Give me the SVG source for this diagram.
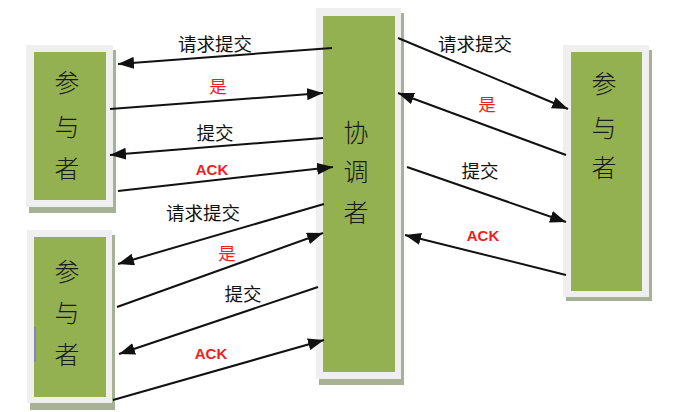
<svg xmlns="http://www.w3.org/2000/svg" width="680" height="412" viewBox="0 0 680 412">
<style>
.shadow{fill:#a7b195}
.frame{fill:#efefef}
.box{fill:#93b151}
.nt{font-family:"Noto Sans CJK SC","Noto Sans",sans-serif;font-size:25px;font-weight:300;fill:#1a1a1a;text-anchor:middle;dominant-baseline:central}
.lb{font-family:"Noto Sans CJK SC","Liberation Sans",sans-serif;font-size:18.5px;fill:#111;text-anchor:middle;dominant-baseline:central}
.red{font-family:"Noto Sans CJK SC","Liberation Sans",sans-serif;font-size:17.5px;fill:#f01e1e;text-anchor:middle;dominant-baseline:central}
.ack{font-family:"Liberation Sans",Arial,sans-serif;font-size:15px;font-weight:bold;fill:#f01e1e;text-anchor:middle;dominant-baseline:central}
.ar{stroke:#111;stroke-width:2;fill:none;marker-end:url(#ah)}
</style>
<defs>
<marker id="ah" markerUnits="userSpaceOnUse" markerWidth="16" markerHeight="12" refX="16" refY="6" orient="auto" viewBox="0 0 16 12">
<path d="M0,0 L16,6 L0,12 z" fill="#111"/>
</marker>
</defs>
<rect width="680" height="412" fill="#ffffff"/>
<g id="participant-top-left">
<rect class="shadow" x="29" y="50" width="87" height="163"/>
<rect class="frame" x="26" y="45" width="87" height="162"/>
<rect class="box" x="34" y="52" width="72" height="148"/>
<text class="nt" x="67" y="81">参</text>
<text class="nt" x="67" y="125">与</text>
<text class="nt" x="67" y="167">者</text>
</g>
<g id="participant-bottom-left">
<rect class="shadow" x="30" y="235" width="85" height="175"/>
<rect class="frame" x="27" y="230" width="85" height="173"/>
<rect class="box" x="34" y="237" width="72" height="160"/>
<line x1="35" y1="327" x2="35" y2="362" stroke="#7a78d8" stroke-width="1.5"/>
<text class="nt" x="67" y="270">参</text>
<text class="nt" x="67" y="311">与</text>
<text class="nt" x="67" y="353">者</text>
</g>
<g id="coordinator">
<rect class="shadow" x="319" y="13" width="85" height="372"/>
<rect class="frame" x="316" y="8" width="85" height="371"/>
<rect class="box" x="323" y="16" width="72" height="356"/>
<text class="nt" x="356" y="131">协</text>
<text class="nt" x="356" y="170">调</text>
<text class="nt" x="356" y="211">者</text>
</g>
<g id="participant-right">
<rect class="shadow" x="566" y="50" width="86" height="251"/>
<rect class="frame" x="563" y="45" width="86" height="252"/>
<rect class="box" x="571" y="52" width="71" height="239"/>
<text class="nt" x="604" y="82">参</text>
<text class="nt" x="604" y="126">与</text>
<text class="nt" x="604" y="166">者</text>
</g>
<g id="connectors">
<line class="ar" x1="332" y1="48" x2="118" y2="64"/>
<line class="ar" x1="110" y1="109" x2="323" y2="93"/>
<line class="ar" x1="323" y1="138" x2="110" y2="155"/>
<line class="ar" x1="118" y1="191" x2="333" y2="167"/>
<line class="ar" x1="324" y1="204" x2="118" y2="264"/>
<line class="ar" x1="117" y1="307" x2="323" y2="233"/>
<line class="ar" x1="318" y1="287" x2="119" y2="354"/>
<line class="ar" x1="113" y1="400" x2="324" y2="340"/>
<line class="ar" x1="398" y1="38" x2="568" y2="109"/>
<line class="ar" x1="566" y1="155" x2="398" y2="93"/>
<line class="ar" x1="407" y1="167" x2="566" y2="222"/>
<line class="ar" x1="566" y1="275" x2="405" y2="235"/>
</g>
<g id="labels">
<text class="lb" x="215" y="43">请求提交</text>
<text class="red" x="218" y="85">是</text>
<text class="lb" x="215" y="132">提交</text>
<text class="ack" x="212" y="169">ACK</text>
<text class="lb" x="203" y="212">请求提交</text>
<text class="red" x="227" y="252">是</text>
<text class="lb" x="243" y="293">提交</text>
<text class="ack" x="211" y="353">ACK</text>
<text class="lb" x="475" y="43">请求提交</text>
<text class="red" x="487" y="103">是</text>
<text class="lb" x="480" y="170">提交</text>
<text class="ack" x="483" y="235">ACK</text>
</g>
</svg>
